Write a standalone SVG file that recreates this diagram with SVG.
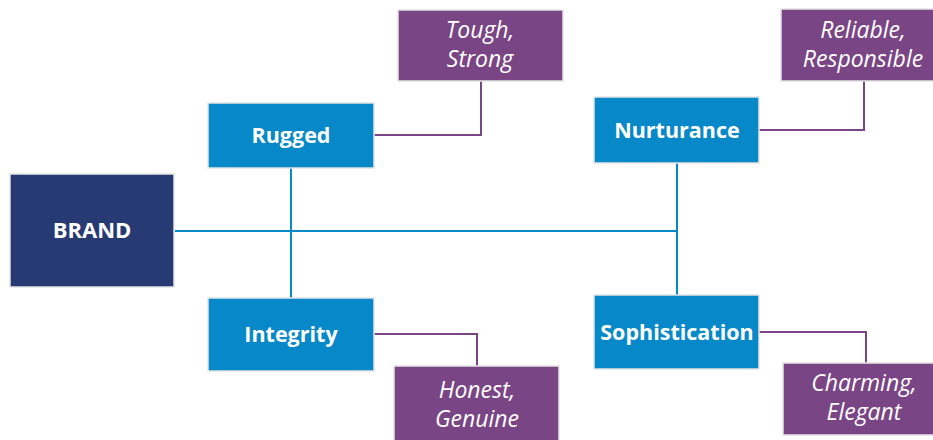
<svg xmlns="http://www.w3.org/2000/svg" width="933" height="440" viewBox="0 0 933 440">
<style>
.brand{fill:#283A74;stroke:#e4e4e4;stroke-width:1.5}
.attr{fill:#0789C9;stroke:#e4e4e4;stroke-width:1.5}
.trait{fill:#7A4584;stroke:#e4e4e4;stroke-width:1.5}
.bt{font-family:"Open Sans","Liberation Sans",sans-serif;font-weight:bold;font-size:21.5px;fill:#fff;text-anchor:middle}
.it{font-family:"Open Sans","Liberation Sans",sans-serif;font-style:italic;font-size:23px;fill:#fff;text-anchor:middle}
.cb{fill:none;stroke:#0789C9;stroke-width:2}
.cp{fill:none;stroke:#7A4584;stroke-width:2}
</style>
<rect width="933" height="440" fill="#fff"/>
<g id="connectors">
<path class="cb" d="M175 231H677"/>
<path class="cb" d="M291 168V298"/>
<path class="cb" d="M677 163V295"/>
<path class="cp" d="M374 135H481V81"/>
<path class="cp" d="M759 130H864V81"/>
<path class="cp" d="M374 334H477V366"/>
<path class="cp" d="M759 332H866V363"/>
</g>
<g id="brand"><rect class="brand" x="10" y="174" width="164" height="113"/><text class="bt" x="92" y="238" style="font-size:22px">BRAND</text></g>
<g id="rugged"><rect class="attr" x="208" y="103" width="166" height="65"/><text class="bt" x="291" y="143">Rugged</text></g>
<g id="nurturance"><rect class="attr" x="594" y="97" width="165" height="66"/><text class="bt" x="677" y="138">Nurturance</text></g>
<g id="integrity"><rect class="attr" x="208" y="298" width="166" height="73"/><text class="bt" x="291" y="342">Integrity</text></g>
<g id="sophistication"><rect class="attr" x="594" y="295" width="165" height="74"/><text class="bt" x="677" y="340">Sophistication</text></g>
<g id="tough"><rect class="trait" x="398" y="10" width="165" height="71"/><text class="it" x="480" y="38">Tough,</text><text class="it" x="480" y="67">Strong</text></g>
<g id="reliable"><rect class="trait" x="781" y="9" width="160" height="72"/><text class="it" x="863" y="38">Reliable,</text><text class="it" x="863" y="67">Responsible</text></g>
<g id="honest"><rect class="trait" x="394" y="366" width="165" height="80"/><text class="it" x="477" y="398">Honest,</text><text class="it" x="477" y="427">Genuine</text></g>
<g id="charming"><rect class="trait" x="783" y="363" width="160" height="72"/><text class="it" x="864" y="391">Charming,</text><text class="it" x="864" y="420">Elegant</text></g>
</svg>
